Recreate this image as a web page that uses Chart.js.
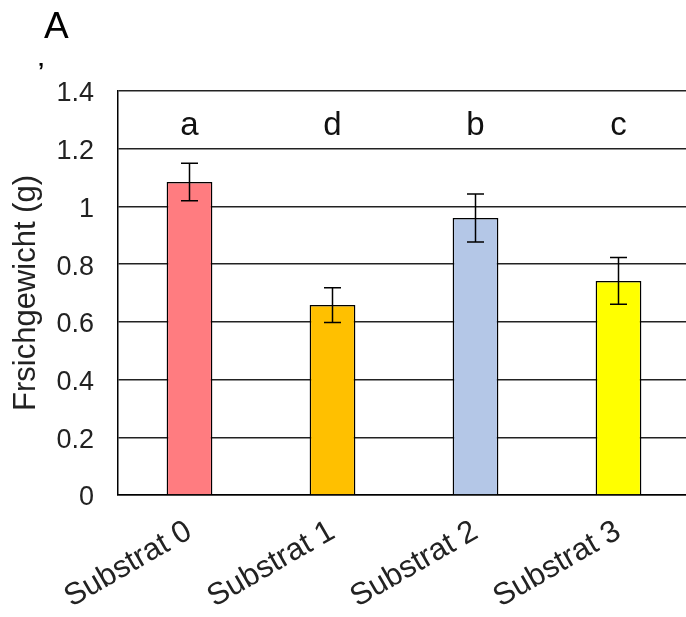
<!DOCTYPE html>
<html>
<head>
<meta charset="utf-8">
<script src="https://cdn.jsdelivr.net/npm/chart.js@4.4.1/dist/chart.umd.min.js"></script>
<style>
html,body{margin:0;padding:0;background:#fff;overflow:hidden;width:686px;height:617px;}
#wrap{position:absolute;left:0;top:0;width:700px;height:617px;}
</style>
</head>
<body>
<div id="wrap"><canvas id="c" width="700" height="617"></canvas></div>
<script>
const categories = ['Substrat 0', 'Substrat 1', 'Substrat 2', 'Substrat 3'];
const values = [1.085, 0.658, 0.960, 0.742];
const errors = [0.065, 0.060, 0.083, 0.081];
const letters = ['a', 'd', 'b', 'c'];
const barColors = ['#FF7C80', '#FFC000', '#B4C7E7', '#FFFF00'];
const yTicks = [0, 0.2, 0.4, 0.6, 0.8, 1, 1.2, 1.4];
const yTitle = 'Frsichgewicht (g)';
const panelLabel = 'A';
const letterLevel = 1.28;

const FONT = "'Liberation Sans', Arial, sans-serif";

const extras = {
  id: 'extras',
  afterDatasetsDraw(chart) {
    const ctx = chart.ctx;
    const x = chart.scales.x, y = chart.scales.y;
    const meta = chart.getDatasetMeta(0);
    ctx.save();
    ctx.strokeStyle = '#000';
    ctx.lineWidth = 1.5;
    meta.data.forEach((bar, i) => {
      const cx = bar.x;
      const yt = y.getPixelForValue(values[i] + errors[i]);
      const yb = y.getPixelForValue(values[i] - errors[i]);
      const cap = 8.5;
      ctx.beginPath();
      ctx.moveTo(cx, yt); ctx.lineTo(cx, yb);
      ctx.moveTo(cx - cap, yt); ctx.lineTo(cx + cap, yt);
      ctx.moveTo(cx - cap, yb); ctx.lineTo(cx + cap, yb);
      ctx.stroke();
    });
    ctx.fillStyle = '#111';
    ctx.font = '33px ' + FONT;
    ctx.textAlign = 'center';
    ctx.textBaseline = 'middle';
    letters.forEach((l, i) => {
      ctx.fillText(l, x.getPixelForValue(i), y.getPixelForValue(letterLevel));
    });
    ctx.fillStyle = '#000';
    ctx.font = '37px ' + FONT;
    ctx.textAlign = 'left';
    ctx.textBaseline = 'alphabetic';
    ctx.fillText(panelLabel, 44, 38);
    ctx.font = 'bold 22px ' + FONT;
    ctx.fillText('\u2019', 38, 78);
    ctx.restore();
  }
};

new Chart(document.getElementById('c'), {
  type: 'bar',
  data: {
    labels: categories,
    datasets: [{
      data: values,
      backgroundColor: barColors,
      borderColor: '#000',
      borderWidth: 1.5,
      barPercentage: 0.32,
      categoryPercentage: 1.0
    }]
  },
  options: {
    responsive: false,
    animation: false,
    devicePixelRatio: 1,
    layout: { padding: { left: 0, right: 10, top: 91, bottom: 0 } },
    plugins: { legend: { display: false }, tooltip: { enabled: false } },
    scales: {
      x: {
        grid: { display: false, drawTicks: false },
        border: { display: true, color: '#000', width: 1.5 },
        ticks: {
          color: '#222',
          font: { family: FONT, size: 31 },
          minRotation: 30,
          maxRotation: 30,
          padding: 18,
          autoSkip: false
        },
        afterFit(s) { s.height = 122; }
      },
      y: {
        min: 0,
        max: 1.4,
        afterBuildTicks(s) { s.ticks = yTicks.map(v => ({ value: v })); },
        grid: { color: '#222', lineWidth: 1.4, drawTicks: false },
        border: { display: true, color: '#000', width: 1.5 },
        ticks: {
          color: '#222',
          font: { family: FONT, size: 27 },
          padding: 24,
          labelOffset: 3,
          callback: v => String(v)
        },
        title: {
          display: true,
          text: yTitle,
          color: '#222',
          font: { family: FONT, size: 31 },
          padding: { top: 8, bottom: 0 }
        },
        afterFit(s) { s.width = 118; }
      }
    }
  },
  plugins: [extras]
});
</script>
</body>
</html>
